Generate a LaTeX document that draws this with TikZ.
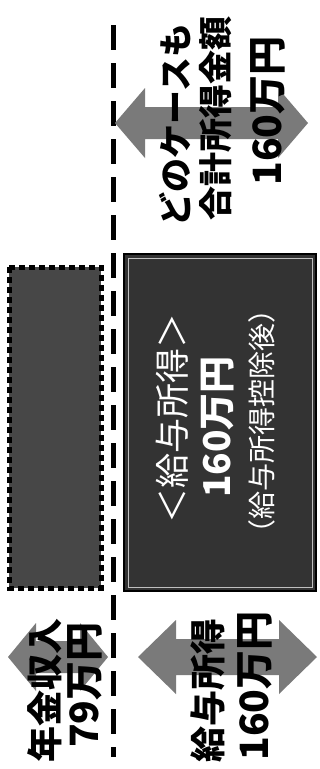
\documentclass[tikz,border=0pt]{standalone}
\usepackage{fontspec}
\newfontfamily\jp{Noto Sans CJK JP}
\newcommand\DblArrow[6]{% x1, x2, cy, head half, shaft half, head length
  \fill[arrowfill] (#1,#3) -- ({#1+#6},{#3-#4}) -- ({#1+#6},{#3-#5}) -- ({#2-#6},{#3-#5}) -- ({#2-#6},{#3-#4}) -- (#2,#3)
    -- ({#2-#6},{#3+#4}) -- ({#2-#6},{#3+#5}) -- ({#1+#6},{#3+#5}) -- ({#1+#6},{#3+#4}) -- cycle;}
\begin{document}
\begin{tikzpicture}[x=1pt,y=-1pt,
  arrowfill/.style={fill=black!52},
  blacktext/.style={inner sep=0pt, rotate=90, text=black},
  whitetext/.style={inner sep=0pt, rotate=90, text=white},
  divider/.style={line width=5pt, dash pattern=on 25pt off 13pt, draw=black},
  pensionbox/.style={fill=black!72, draw=black, line width=5pt, dash pattern=on 6pt off 4pt},
  salarybox/.style={fill=black!80, draw=black, line width=2pt},
  innerline/.style={draw=white!75!black, line width=0.9pt}]
\useasboundingbox (0,0) rectangle (320,769);
\fill[white] (0,0) rectangle (320,769);
% divider
\coordinate (dtop) at (113,25);
\coordinate (dbot) at (113,757);
\draw[divider] (dtop) -- (dbot);
% boxes
\draw[pensionbox] (9,267) rectangle (101,588);
\draw[salarybox] (124,254) rectangle (316,591);
\draw[innerline] (128,258) rectangle (312,587);
% arrows
\DblArrow{115}{308}{123}{35}{16}{30}
\DblArrow{8}{108}{657}{34}{16}{28}
\DblArrow{138}{317}{657}{37}{18}{38}
% top text
\node[blacktext, font=\jp\bfseries\fontsize{34}{34}\selectfont] (t1) at (175,125) {どのケースも};
\node[blacktext, font=\jp\bfseries\fontsize{34}{34}\selectfont] (t2) at (216,118) {合計所得金額};
\node[blacktext, font=\jp\bfseries\fontsize{39}{39}\selectfont] (t3) at (268,111) {160万円};
% salary box text
\node[whitetext, font=\jp\fontsize{35}{35}\selectfont] (s1) at (172,418) {＜給与所得＞};
\node[whitetext, font=\jp\bfseries\fontsize{37}{37}\selectfont] (s2) at (218,427) {160万円};
\node[whitetext, font=\jp\fontsize{28}{28}\selectfont] (s3) at (262,421) {（給与所得控除後）};
% bottom text
\node[blacktext, font=\jp\bfseries\fontsize{36}{36}\selectfont] (p1) at (45,690) {年金収入};
\node[blacktext, font=\jp\bfseries\fontsize{39}{39}\selectfont] (p2) at (85,685) {79万円};
\node[blacktext, font=\jp\bfseries\fontsize{36}{36}\selectfont] (q1) at (208,690) {給与所得};
\node[blacktext, font=\jp\bfseries\fontsize{39}{39}\selectfont] (q2) at (255,686) {160万円};
\end{tikzpicture}
\end{document}
